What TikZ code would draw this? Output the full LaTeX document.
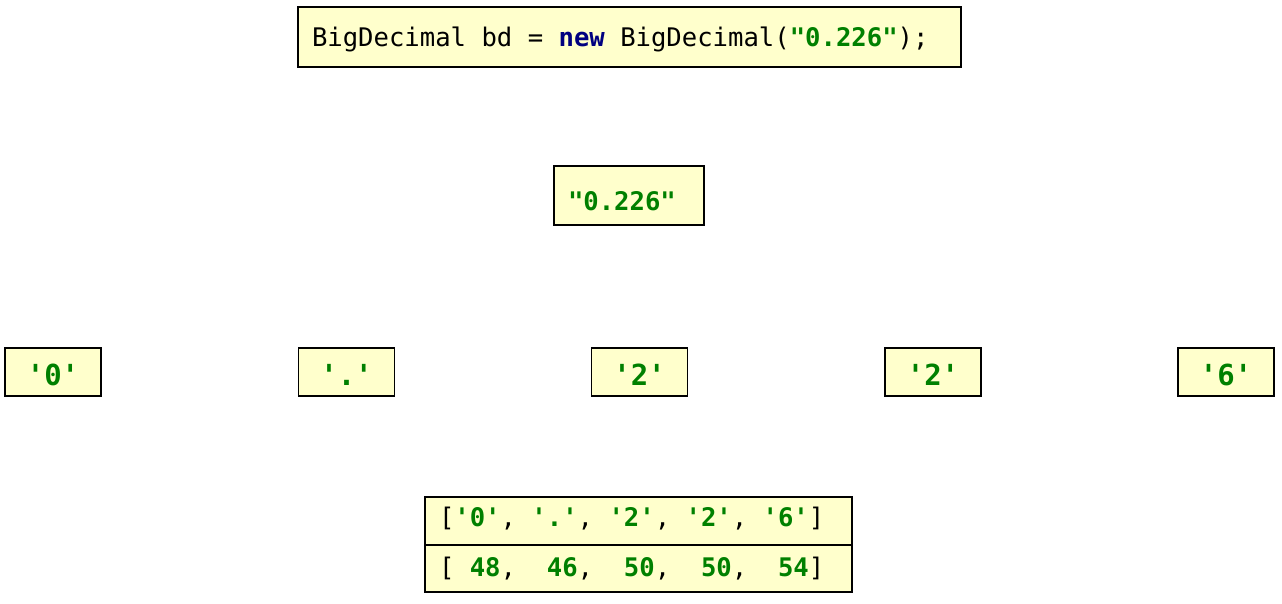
\documentclass[tikz,border=0pt]{standalone}
\usepackage{fontspec}
\usepackage{xcolor}
\setmonofont{DejaVu Sans Mono}
\definecolor{litgreen}{RGB}{0,128,0}
\definecolor{kwnavy}{RGB}{0,0,128}
\definecolor{boxfill}{RGB}{255,255,204}
\newcommand{\lit}[1]{\textcolor{litgreen}{\bfseries #1}}
\newcommand{\monosize}[1]{\ttfamily\fontsize{#1}{1.2\dimexpr#1\relax}\selectfont}

\begin{document}
\begin{tikzpicture}[x=1pt, y=-1pt,
      every node/.style = {draw, rectangle, fill=boxfill, line width=1.8pt,
            font=\monosize{25.6pt}, inner sep=0pt, outer sep=0pt, text depth=0pt,
            execute at begin node={\spaceskip=\fontcharwd\font`0\relax}},
      codebox/.style = {text width=#1, align=left, inner xsep=14pt},
      charbox/.style = {minimum width=96pt, minimum height=48pt,
            font=\monosize{29pt}, text height=26pt}
      ]
      \useasboundingbox (0,0) rectangle (1282,604);
      \node[codebox=635pt, minimum height=60pt, text height=19.1pt] (code) at (629.5,37)
            {BigDecimal bd = \textcolor{kwnavy}{\bfseries new} BigDecimal(\lit{"0.226"});};
      \node[codebox=122pt, minimum height=59pt, text height=30.5pt]
            (str) at (629,195.5) {\lit{"0.226"}};
      \foreach \ch/\x [count=\i] in {0/53, ./346.5, 2/639.5, 2/933, 6/1226}
            \node[charbox] (c\i) at (\x,372) {\lit{'\ch'}};
      \node[codebox=399pt, minimum height=48pt, text height=11pt] (chars) at (638.5,521)
            {[\lit{'0'}, \lit{'.'}, \lit{'2'}, \lit{'2'}, \lit{'6'}]};
      \node[codebox=399pt, minimum height=47pt, text height=16.5pt, anchor=north]
            (codes) at (chars.south)
            {[ \lit{48},~ \lit{46},~ \lit{50},~ \lit{50},~ \lit{54}]};
\end{tikzpicture}
\end{document}
